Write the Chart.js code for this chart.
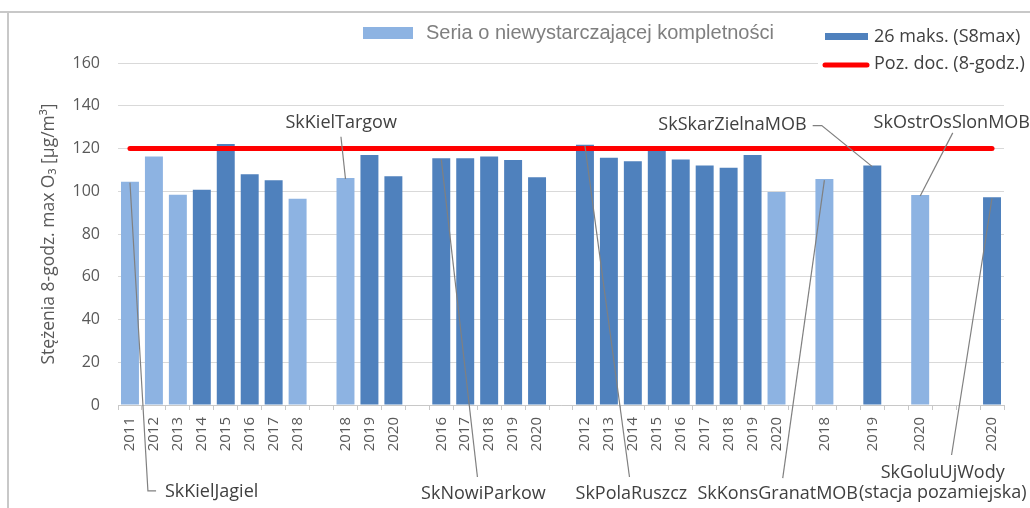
<!DOCTYPE html>
<html><head><meta charset="utf-8">
<script src="https://cdn.jsdelivr.net/npm/chart.js@4"></script>
<style>html,body{margin:0;padding:0;background:#fff}#wrap{width:1030px;height:508px;position:relative}</style>
</head><body><div id="wrap"><canvas id="c" width="1030" height="508"></canvas></div>
<script>
// ---- data ----
const categories = ['2011','2012','2013','2014','2015','2016','2017','2018','',
  '2018','2019','2020','',
  '2016','2017','2018','2019','2020','',
  '2012','2013','2014','2015','2016','2017','2018','2019','2020','',
  '2018','','2019','','2020','','','2020'];
const s8max = [104.5,116.2,98.4,100.7,122.1,107.9,105.1,96.5,null,
  106.2,117.0,107.0,null,
  115.4,115.4,116.2,114.6,106.5,null,
  121.8,115.7,114.0,119.5,114.9,112.1,111.0,117.0,99.6,null,
  105.7,null,112.0,null,98.2,null,null,97.2];
const incomplete = [1,1,1,0,0,0,0,1,0,
  1,0,0,0,
  0,0,0,0,0,0,
  0,0,0,0,0,0,0,0,1,0,
  1,0,0,0,1,0,0,0];
const limitValue = 120;
const yTickValues = [0,20,40,60,80,100,120,140,160];
const seriesLabels = ['Seria o niewystarczającej kompletności','26 maks. (S8max)','Poz. doc. (8-godz.)'];
const yTitle = 'Stężenia 8-godz. max O₃ [µg/m³]';
// callouts: anchor bar index, path & text positions in (category, value) space
const callouts = [
  {lines:['SkKielJagiel'], bar:0, path:[[0.75,-40.2],[1.09,-40.2]], at:[[1.46,-40.7]], align:'left'},
  {lines:['SkKielTargow'], bar:9, path:[[8.81,125.5]], at:[[8.82,131.9]], align:'center'},
  {lines:['SkNowiParkow'], bar:13, path:[[14.51,-33.7]], at:[[14.76,-41.6]], align:'center'},
  {lines:['SkPolaRuszcz'], bar:19, path:[[20.86,-33.7]], at:[[20.94,-41.6]], align:'center'},
  {lines:['SkKonsGranatMOB'], bar:29, path:[[27.26,-34.2]], at:[[27.05,-41.6]], align:'center'},
  {lines:['SkSkarZielnaMOB'], bar:31, path:[[28.89,130.7],[28.51,130.7]], at:[[28.26,131.0]], align:'right'},
  {lines:['SkOstrOsSlonMOB'], bar:33, path:[[34.36,127.3]], at:[[34.32,131.9]], align:'center'},
  {lines:['SkGoluUjWody','(stacja pozamiejska)'], bar:36, path:[[34.31,-23.4]], at:[[33.94,-31.8],[33.94,-41.2]], align:'center'}
];
// ---- derived ----
const completeSeries = s8max.map((v,i)=> incomplete[i] ? null : v);
const incompleteSeries = s8max.map((v,i)=> incomplete[i] ? v : null);
const limitSeries = categories.map(()=>limitValue);

const LIGHT = '#8db3e2', DARK = '#4f81bd', RED = '#ff0000';

const framePlugin = {
  id:'frame',
  beforeDraw(chart){
    const ctx = chart.ctx;
    ctx.save();
    ctx.fillStyle='#fff'; ctx.fillRect(0,0,chart.width,chart.height);
    ctx.strokeStyle='#c8c8c8'; ctx.lineWidth=2;
    ctx.beginPath(); ctx.moveTo(0,12); ctx.lineTo(chart.width,12);
    ctx.moveTo(8,12); ctx.lineTo(8,chart.height); ctx.stroke();
    ctx.restore();
  }
};
const legendPlugin = {
  id:'customLegend',
  afterDraw(chart){
    const ctx = chart.ctx, ds = chart.data.datasets;
    ctx.save();
    ctx.fillStyle='#fff'; ctx.fillRect(818,22,212,52);
    ctx.textBaseline='middle'; ctx.textAlign='left';
    // incomplete
    ctx.fillStyle = ds[1].backgroundColor; ctx.fillRect(363,27,50,12);
    ctx.fillStyle='#7f7f7f'; ctx.font='20px "Liberation Sans", Arial, sans-serif';
    ctx.fillText(ds[1].label, 426, 33);
    // complete
    ctx.fillStyle = ds[0].backgroundColor; ctx.fillRect(825,33,43,7);
    ctx.fillStyle='#404040'; ctx.font='18px "Open Sans", sans-serif';
    ctx.fillText(ds[0].label, 874, 37);
    // limit line
    ctx.strokeStyle = ds[2].borderColor; ctx.lineWidth=5; ctx.lineCap='round';
    ctx.beginPath(); ctx.moveTo(825,65); ctx.lineTo(867,65); ctx.stroke();
    ctx.fillText(ds[2].label, 874, 64);
    ctx.restore();
  }
};
const calloutPlugin = {
  id:'callouts',
  afterDraw(chart){
    const xs = chart.scales.x, ys = chart.scales.y, ctx = chart.ctx;
    const P = (s,v)=>[xs.getPixelForValue(s), ys.getPixelForValue(v)];
    ctx.save();
    for (const c of callouts){
      const a = P(c.bar, s8max[c.bar]);
      ctx.strokeStyle='#808080'; ctx.lineWidth=1.2;
      ctx.beginPath(); ctx.moveTo(a[0], a[1]+1);
      for (const p of c.path){ const q=P(p[0],p[1]); ctx.lineTo(q[0],q[1]); }
      ctx.stroke();
      ctx.font='18px "Open Sans", sans-serif'; ctx.fillStyle='#404040';
      ctx.textAlign=c.align; ctx.textBaseline='middle';
      c.lines.forEach((t,k)=>{ const q=P(c.at[k][0], c.at[k][1]); ctx.fillText(t,q[0],q[1]); });
    }
    ctx.restore();
  }
};

new Chart(document.getElementById('c'), {
  type:'bar',
  data:{
    labels: categories,
    datasets:[
      {label:seriesLabels[1], data:completeSeries, backgroundColor:DARK, grouped:false, barPercentage:0.75, categoryPercentage:1, order:1},
      {label:seriesLabels[0], data:incompleteSeries, backgroundColor:LIGHT, grouped:false, barPercentage:0.75, categoryPercentage:1, order:1},
      {type:'line', label:seriesLabels[2], data:limitSeries, borderColor:RED, borderWidth:5, pointRadius:0, borderCapStyle:'round', fill:false, order:0}
    ]
  },
  options:{
    responsive:false, animation:false, devicePixelRatio:1,
    layout:{padding:{top:63, right:26, left:0, bottom:0}},
    plugins:{legend:{display:false}, tooltip:{enabled:false}, title:{display:false}},
    scales:{
      x:{
        offset:true,
        grid:{display:true, offset:true, drawOnChartArea:false, drawTicks:true, tickLength:5, color:'#c8c8c8'},
        border:{display:true, color:'#c8c8c8'},
        ticks:{autoSkip:false, minRotation:90, maxRotation:90, padding:7, color:'#595959', font:{family:'"Open Sans", sans-serif', size:15}},
        afterFit(s){ s.height = 103; }
      },
      y:{
        min:0, max:160,
        afterBuildTicks(s){ s.ticks = yTickValues.map(v=>({value:v})); },
        grid:{color:'#d9d9d9', drawTicks:false},
        border:{display:false},
        ticks:{padding:18, color:'#595959', font:{family:'"Open Sans", sans-serif', size:16}},
        title:{display:true, text:yTitle, color:'#595959', font:{family:'"Open Sans", sans-serif', size:17.5}, padding:{top:39, bottom:0}},
        afterFit(s){ s.width = 118; }
      }
    }
  },
  plugins:[framePlugin, legendPlugin, calloutPlugin]
});
</script>
</body></html>
